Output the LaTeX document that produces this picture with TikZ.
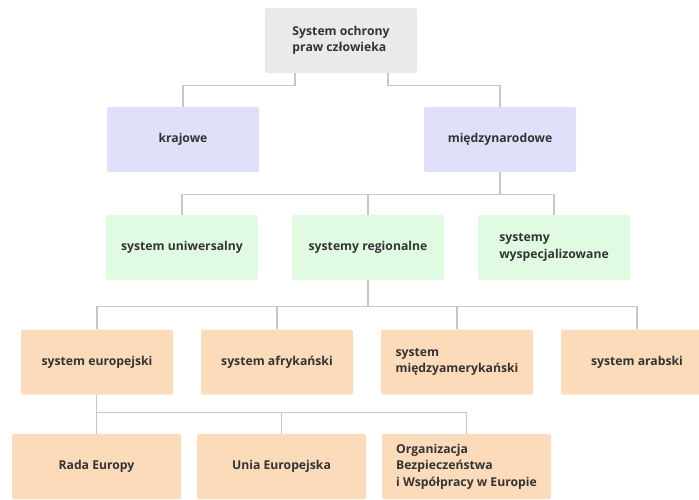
\documentclass[tikz,border=0pt]{standalone}
\usepackage{fontspec}
\setmainfont{Open Sans}
\usetikzlibrary{calc, positioning}
\definecolor{boxgray}{HTML}{EAEAEA}
\definecolor{boxblue}{HTML}{E0E0FB}
\definecolor{boxgreen}{HTML}{E1FBE3}
\definecolor{boxpeach}{HTML}{FCDBBB}
\definecolor{txt}{HTML}{333333}
\definecolor{ln}{HTML}{C8C8C8}

\begin{document}
\begin{tikzpicture}[x=1pt,y=-1pt,
  box/.style={rounded corners=2pt, minimum width=152pt, minimum height=65pt, align=left, text=txt, font=\fontsize{12.2}{16.5}\selectfont\bfseries},
  wide/.style={box, minimum width=169pt},
  conn/.style={draw=ln, line width=1.3pt}]
\useasboundingbox (0,0) rectangle (699,499);
\node[box,fill=boxgray] (root) at (341,40.5) {System ochrony\\praw człowieka};
\node[box,fill=boxblue] (kraj) at (183,139.5) {krajowe};
\node[box,fill=boxblue] (miedzy) at (500,139.5) {międzynarodowe};
\node[box,fill=boxgreen] (uni) at (182,247.5) {system uniwersalny};
\node[box,fill=boxgreen] (reg) at (368,247.5) {systemy regionalne};
\node[box,fill=boxgreen] (spec) at (554,247.5) {systemy\\wyspecjalizowane};
\node[box,fill=boxpeach] (eur) at (97,362) {system europejski};
\node[box,fill=boxpeach] (afr) at (277,362) {system afrykański};
\node[box,fill=boxpeach] (ame) at (457,362) {system\\międzyamerykański};
\node[box,fill=boxpeach] (arab) at (637,362) {system arabski};
\node[wide,fill=boxpeach] (rada) at (96.5,466.5) {Rada Europy};
\node[wide,fill=boxpeach] (unia) at (281.5,466.5) {Unia Europejska};
\node[wide,fill=boxpeach] (obwe) at (466.5,466.5) {Organizacja\\Bezpieczeństwa\\i Współpracy w Europie};

\draw[conn] ([xshift=-46pt]root.south) -- ++(0,12) -| (kraj);
\draw[conn] ([xshift=47pt]root.south) -- ++(0,12) -| (miedzy);
\draw[conn] (miedzy.south) -- ++(0,22) coordinate (b2);
\foreach \n in {uni,reg,spec} \draw[conn] (b2) -| (\n);
\draw[conn] (reg.south) -- ++(0,26) coordinate (b3);
\foreach \n in {eur,afr,ame,arab} \draw[conn] (b3) -| (\n);
\draw[conn] ([xshift=-0.5pt]eur.south) -- ++(0,17.5) coordinate (b4);
\foreach \n in {rada,unia,obwe} \draw[conn] (b4) -| (\n);
\end{tikzpicture}
\end{document}
